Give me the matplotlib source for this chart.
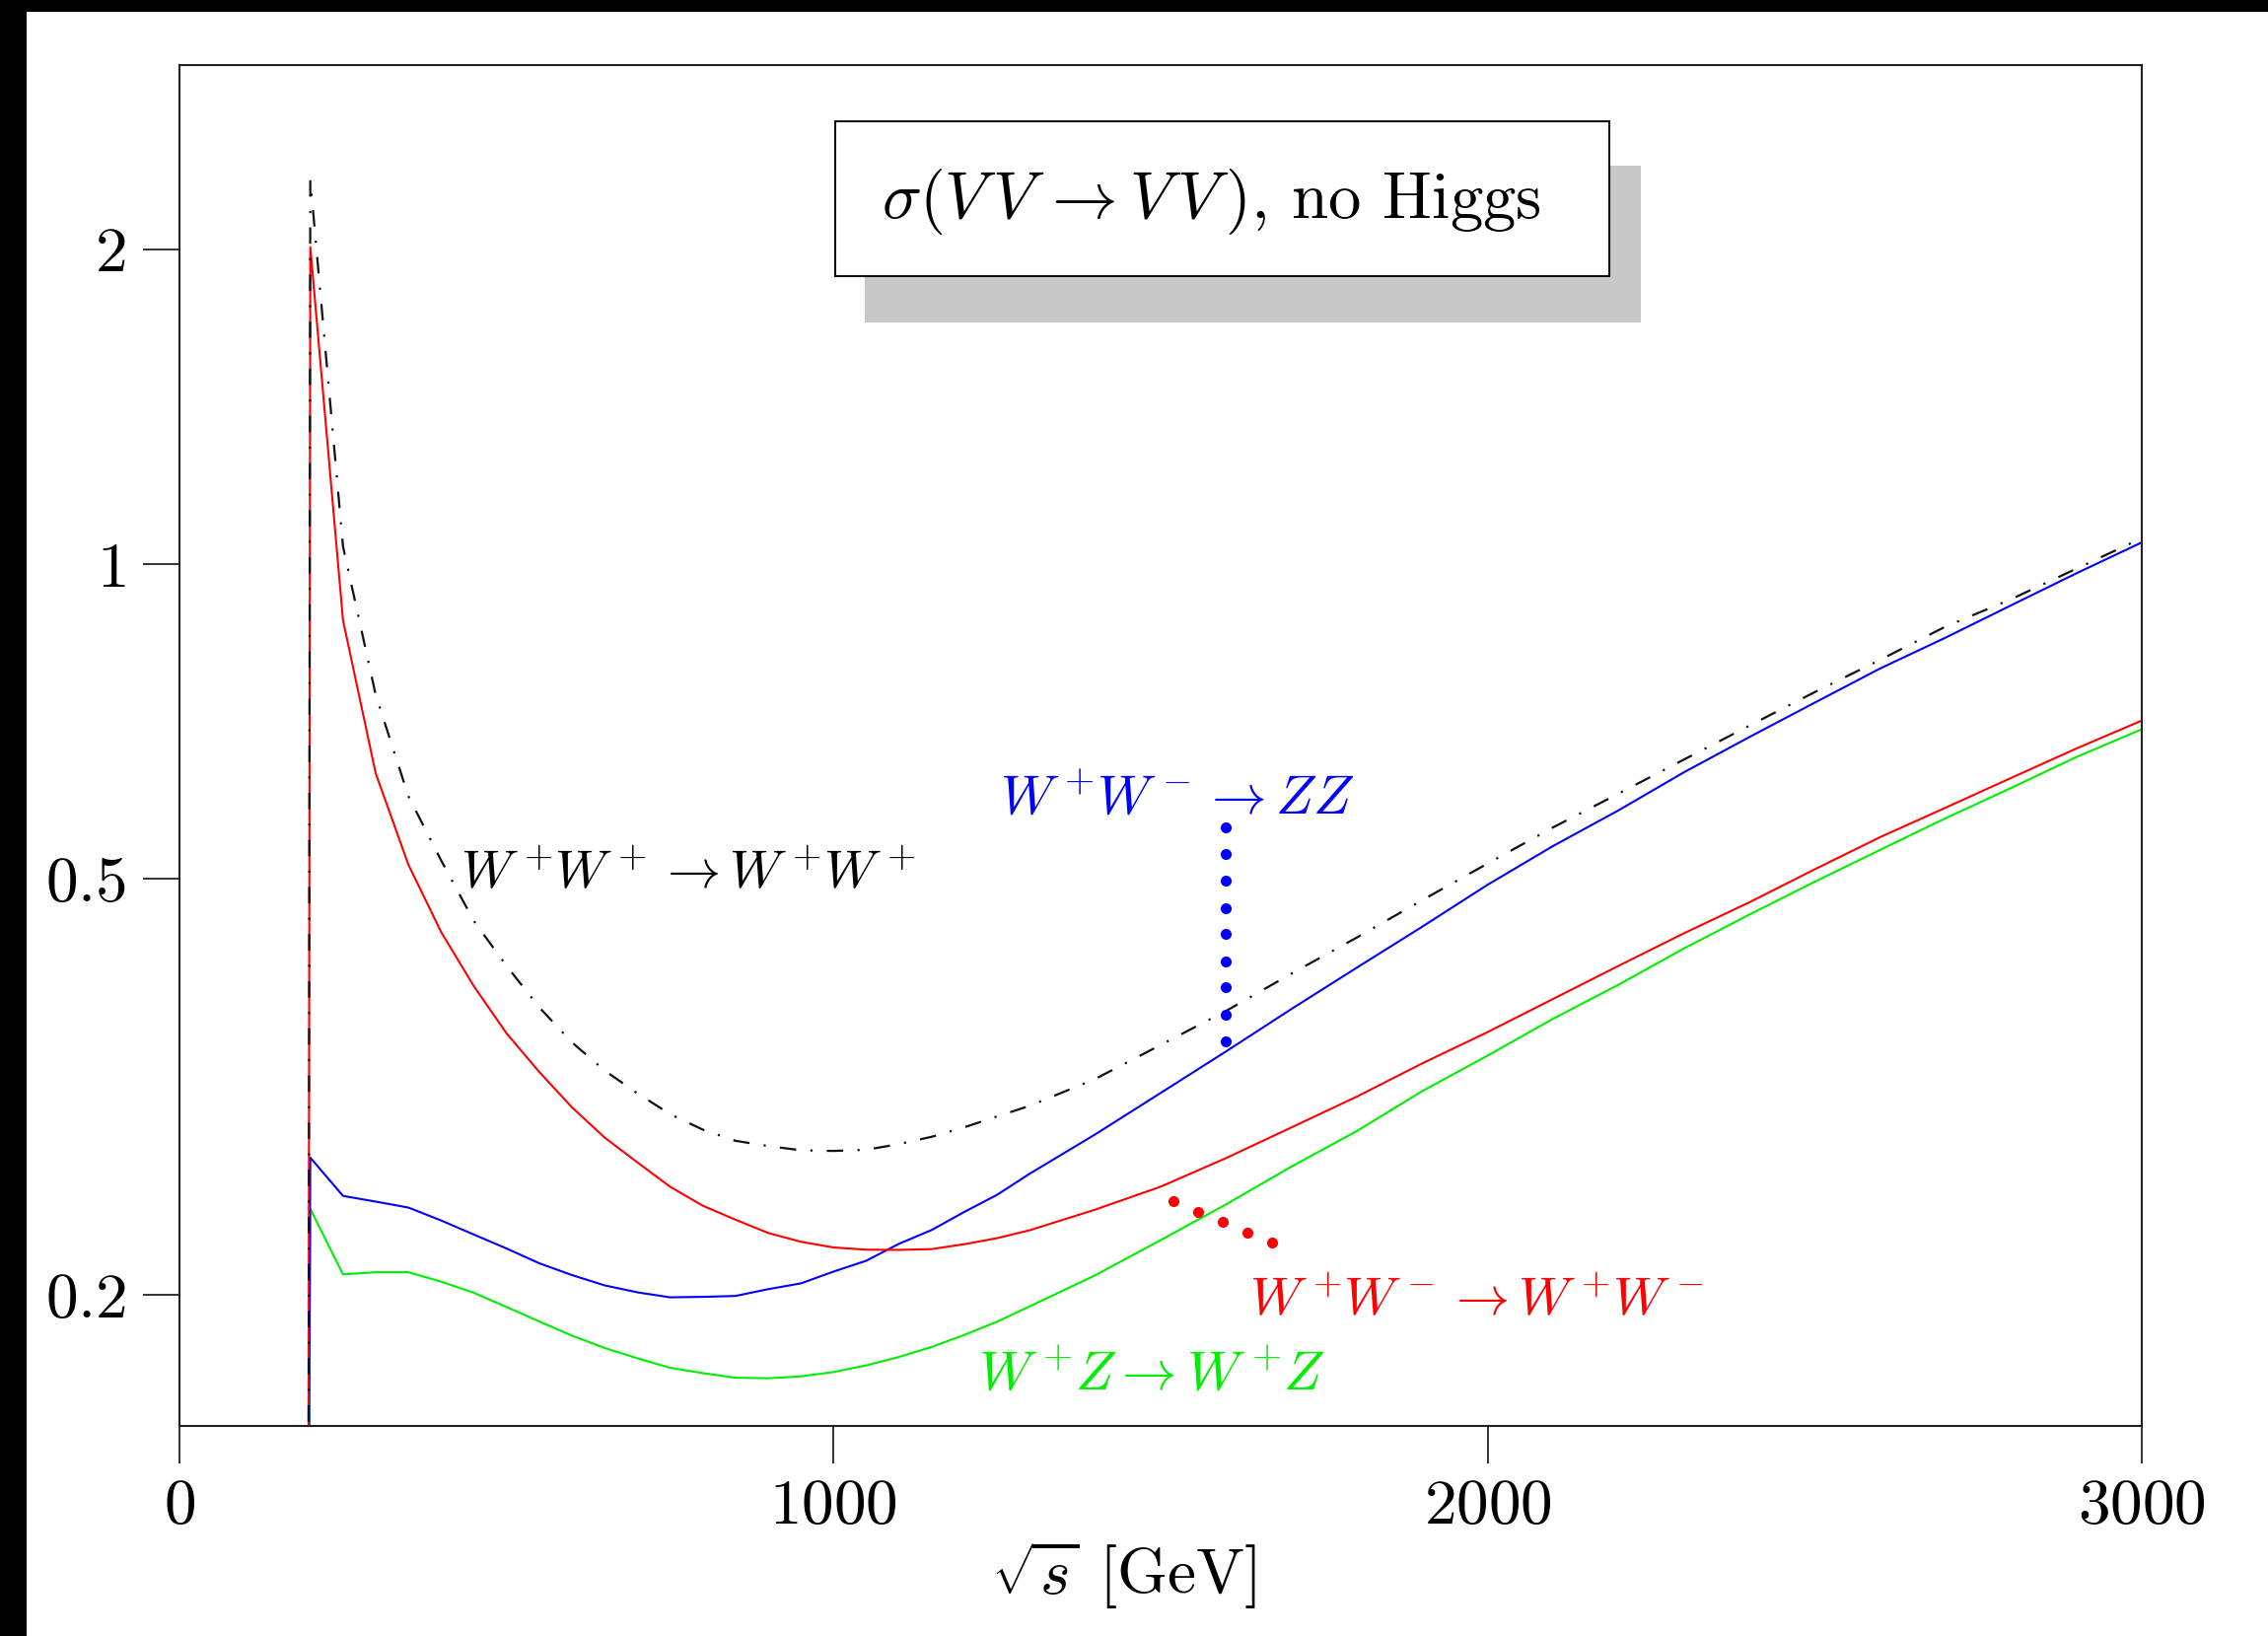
import matplotlib
matplotlib.use("Agg")
import matplotlib.pyplot as plt
from matplotlib.patches import Rectangle

plt.rcParams['mathtext.fontset'] = 'cm'
plt.rcParams['font.family'] = ['cmr10', 'DejaVu Serif']
plt.rcParams['axes.unicode_minus'] = False

# --- data (sqrt(s) in GeV, sigma) ---
SQRT_S = [197, 200, 250, 300, 350, 400, 450, 500, 550, 600, 650, 700, 750,
          800, 850, 900, 950, 1000, 1050, 1100, 1150, 1200, 1250, 1300,
          1400, 1500, 1600, 1700, 1800, 1900, 2000, 2100, 2200, 2300, 2400,
          2500, 2600, 2700, 2800, 2900, 3000]

# W+W+ -> W+W+  (black dash-dot)
SIG_WPWP = [0.1, 2.33, 1.04, 0.75, 0.60, 0.521, 0.456, 0.413, 0.377, 0.349,
            0.328, 0.312, 0.298, 0.288, 0.281, 0.2778, 0.2752, 0.2748, 0.2755,
            0.279, 0.2835, 0.2895, 0.2965, 0.3035,
            0.322, 0.347, 0.374, 0.406, 0.4396, 0.4773, 0.5174, 0.5602, 0.6034,
            0.6504, 0.7007, 0.7545, 0.8101, 0.8716, 0.9256, 0.99, 1.059]

# W+W- -> W+W-  (red)
SIG_WPWM_WW = [0.1, 2.01, 0.884, 0.631, 0.516, 0.445, 0.395, 0.356, 0.327, 0.3025,
               0.283, 0.268, 0.254, 0.2436, 0.2362, 0.2294, 0.2250, 0.2222, 0.2211,
               0.2210, 0.2214, 0.2238, 0.2268, 0.2308,
               0.2415, 0.254, 0.2705, 0.2894, 0.3097, 0.3332, 0.357, 0.384, 0.413,
               0.4437, 0.475, 0.5108, 0.5483, 0.585, 0.6245, 0.6664, 0.7087]

# W+W- -> ZZ  (blue)
SIG_WPWM_ZZ = [0.1, 0.2708, 0.2489, 0.2458, 0.2426, 0.2358, 0.2286, 0.2217, 0.2146,
               0.2091, 0.2044, 0.2013, 0.1991, 0.1993, 0.1997, 0.2027, 0.2053, 0.2107,
               0.2158, 0.2240, 0.2309, 0.2403, 0.2495, 0.2614,
               0.2850, 0.3122, 0.3421, 0.3756, 0.4114, 0.4502, 0.4938, 0.5377, 0.5816,
               0.6324, 0.6834, 0.7372, 0.7948, 0.8506, 0.9132, 0.980, 1.049]

# W+Z -> W+Z  (green)
SIG_WPZ = [0.1, 0.2419, 0.2094, 0.2104, 0.2104, 0.2061, 0.2011, 0.1949, 0.1888,
           0.1830, 0.1781, 0.1741, 0.1705, 0.1685, 0.1668, 0.1666, 0.1673, 0.1689,
           0.1714, 0.1746, 0.1785, 0.1833, 0.1887, 0.1952,
           0.2090, 0.2258, 0.2443, 0.2655, 0.2871, 0.3135, 0.3390, 0.3676, 0.3962,
           0.4291, 0.4623, 0.497, 0.5331, 0.5716, 0.6109, 0.654, 0.6953]

X_TICKS = [0, 1000, 2000, 3000]
Y_TICKS = [0.2, 0.5, 1, 2]

# dotted pointers from labels to curves
ZZ_DOTS_X = [1600] * 9
ZZ_DOTS_Y = [0.560, 0.528, 0.498, 0.469, 0.443, 0.417, 0.394, 0.371, 0.350]
WW_DOTS_X = [1520, 1557, 1595, 1632, 1670]
WW_DOTS_Y = [0.2463, 0.2405, 0.2349, 0.2297, 0.2244]

W, H = 2300, 1659
fig = plt.figure(figsize=(W / 100, H / 100), dpi=100)
ax = fig.add_axes([182 / W, 1 - 1446 / H, 1990 / W, 1380 / H])

ax.plot(SQRT_S, SIG_WPZ, color='#00ee00', lw=1.5)
ax.plot(SQRT_S, SIG_WPWM_ZZ, color='#0000ff', lw=1.5)
ax.plot(SQRT_S, SIG_WPWM_WW, color='#ff0000', lw=1.5)
ax.plot(SQRT_S, SIG_WPWP, color='#111111', lw=1.6, linestyle=(0, (7.5, 6.5, 1, 6.5)))

ax.plot(ZZ_DOTS_X, ZZ_DOTS_Y, 'o', color='#0000ff', ms=8, mec='none')
ax.plot(WW_DOTS_X, WW_DOTS_Y, 'o', color='#ff0000', ms=8, mec='none')

lab = dict(fontsize=40, va='baseline', ha='left')
ax.text(430, 0.490, r'$W^+\!W^+ \to W^+\!W^+$', color='black', fontsize=39,
        va='baseline', ha='left')
ax.text(1254, 0.577, r'$W^+\!W^- \to ZZ$', color='#0000ff', **lab)
ax.text(1636, 0.1914, r'$W^+\!W^- \to W^+\!W^-$', color='#ff0000', fontsize=39,
        va='baseline', ha='left')
ax.text(1221, 0.1627, r'$W^+\!Z \to W^+\!Z$', color='#00ee00', **lab)

ax.set_yscale('log')
ax.set_xlim(0, 3000)
ax.set_ylim(0.15, 3.0)
ax.set_xticks(X_TICKS, labels=[f'${t}$' for t in X_TICKS])
ax.set_yticks(Y_TICKS, labels=[f'${t:g}$' for t in Y_TICKS])
ax.yaxis.set_minor_locator(matplotlib.ticker.NullLocator())
ax.tick_params(direction='out', length=27, width=1.3, pad=12, labelsize=47,
               color='#222222', top=False, right=False)
for s in ax.spines.values():
    s.set_linewidth(1.5)
    s.set_color('#222222')

ax.set_xlabel(r'$\sqrt{s}$ [GeV]', fontsize=47)
ax.xaxis.set_label_coords((1140 - 182) / 1990, (1446 - 1560) / 1380)

# title box with drop shadow
fig.add_artist(Rectangle((877 / W, 1 - 327 / H), 787 / W, 159 / H,
                         transform=fig.transFigure, facecolor='#c8c8c8',
                         edgecolor='none', zorder=5))
fig.add_artist(Rectangle((847 / W, 1 - 280 / H), 785 / W, 157 / H,
                         transform=fig.transFigure, facecolor='white',
                         edgecolor='#111111', lw=1.5, zorder=6))
fig.text(1228 / W, 1 - 204 / H, r'$\sigma(V\,V\, \to V\,V\,)$, no Higgs',
         fontsize=48, ha='center', va='center', zorder=7)

# black frame bands at top and left
fig.add_artist(Rectangle((0, 1 - 12 / H), 1, 12 / H, transform=fig.transFigure,
                         facecolor='black', edgecolor='none', zorder=10))
fig.add_artist(Rectangle((0, 0), 27 / W, 1, transform=fig.transFigure,
                         facecolor='black', edgecolor='none', zorder=10))

fig.savefig('out.png', dpi=100)
